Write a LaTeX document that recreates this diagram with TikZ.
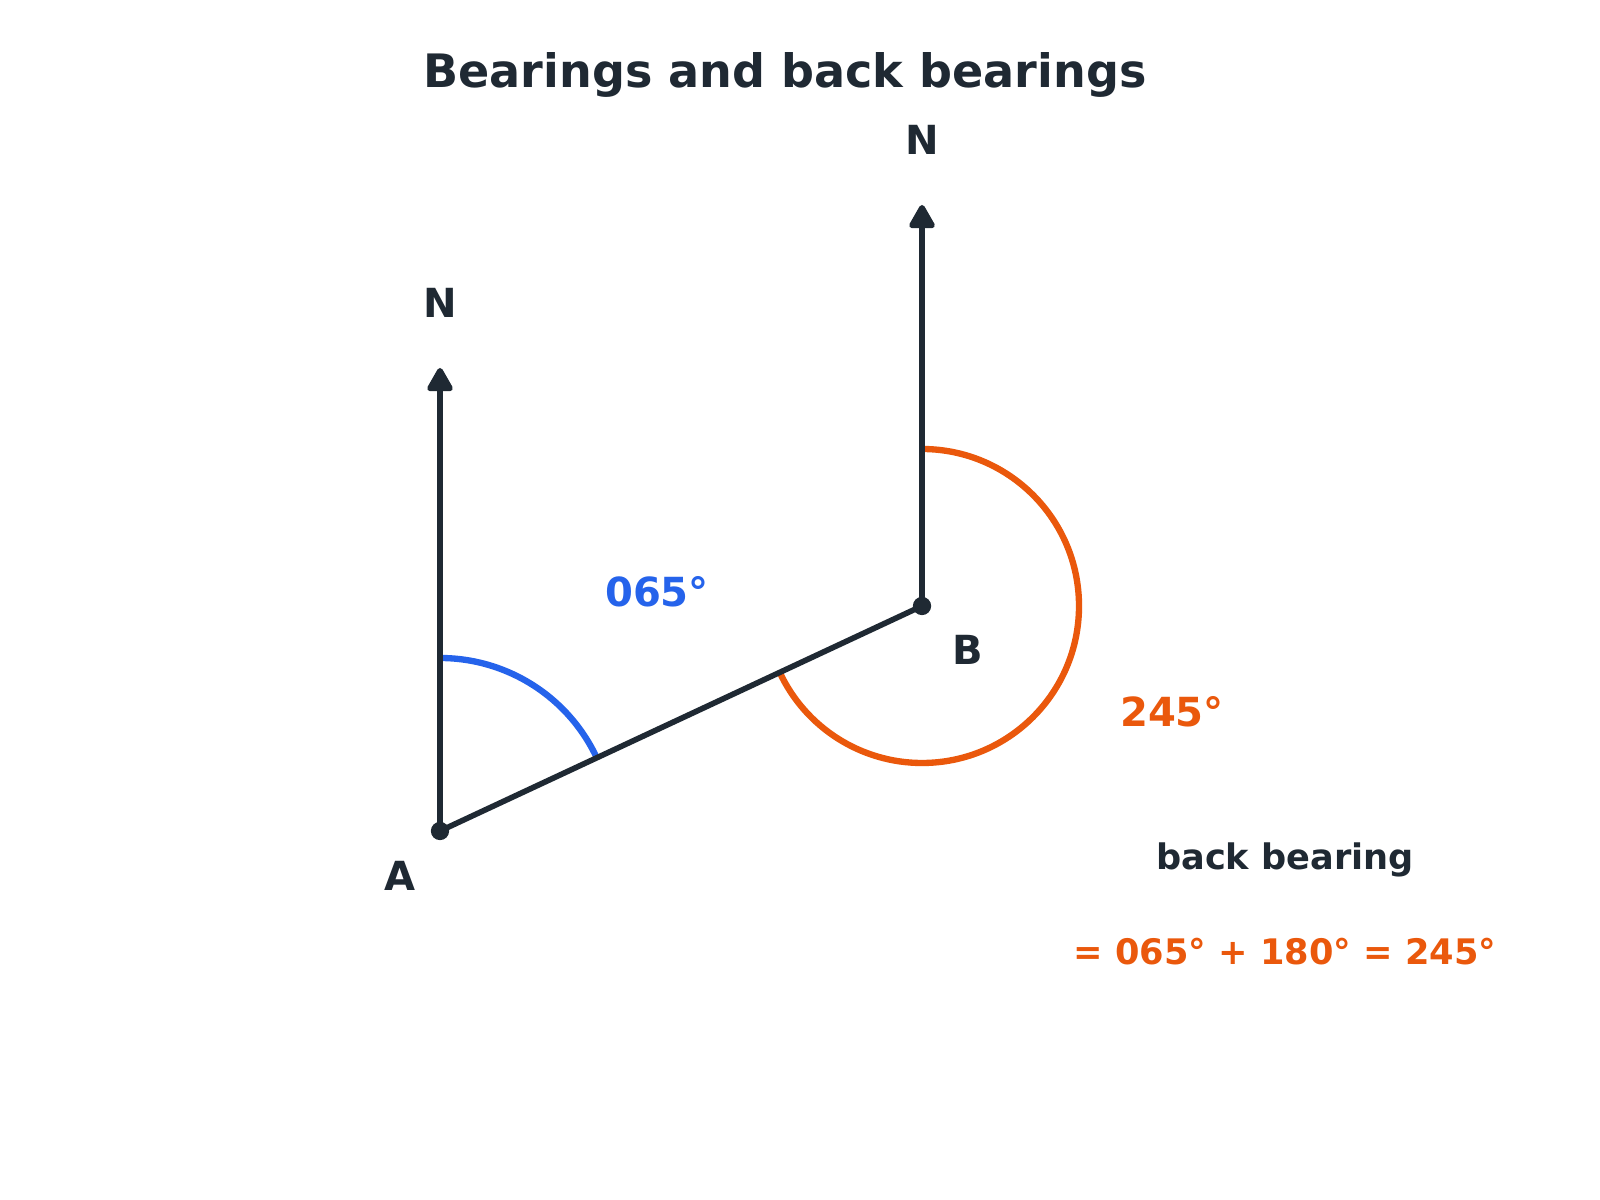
\documentclass[tikz,border=0pt]{standalone}
\usepackage{fontspec}
\setmainfont{DejaVu Sans}
\usepackage{tikz}
\usetikzlibrary{arrows.meta, positioning, calc}
\definecolor{ink}{HTML}{1F2933}
\definecolor{bearblue}{HTML}{2563EB}
\definecolor{bearorange}{HTML}{EA580C}

\begin{document}
\begin{tikzpicture}[
  x=0.01cm, y=0.01cm,
  line/.style={draw=ink, line width=1.6pt},
  north/.style={line, -{Triangle[length=7.5pt, width=8pt, round]}},
  dot/.style={circle, fill=ink, inner sep=0pt, minimum size=5.2pt},
  pt/.style={font=\fontsize{11.4}{13}\selectfont\bfseries, text=ink, inner sep=0pt},
  angle/.style={font=\fontsize{11.4}{13}\selectfont\bfseries, inner sep=0pt},
  arcline/.style={line width=1.8pt},
  note/.style={font=\fontsize{10}{12}\selectfont\bfseries, inner sep=0pt}
]
\fill[white] (0,0) rectangle (1600,1200);
\useasboundingbox (0,0) rectangle (1600,1200);

% --- Title ---
\node[font=\fontsize{13.1}{15}\selectfont\bfseries, text=ink] (title) at (785,1125)
{Bearings and back bearings};

% --- Points and north lines ---
\node[dot] (A) at (440,369) {};
\node[dot] (B) at (922,594) {};
\coordinate (nA) at (440,832);
\coordinate (nB) at (922,995);

\node[pt, above=0.5cm of nA] (labNA) {N};
\node[pt, above=0.5cm of nB] (labNB) {N};

% --- Angle arcs ---
\draw[arcline, bearblue] ($(A)+(0,173)$) arc[start angle=90, end angle=25, radius=173];
\draw[arcline, bearorange] ($(B)+(0,157)$) arc[start angle=90, end angle=-155, radius=157];

% --- Lines ---
\draw[north] (A.center) -- (nA);
\draw[north] (B.center) -- (nB);
\draw[line] (A.center) -- (B.center);

% --- Labels ---
\node[pt] (labA) at (400,324) {A};
\node[pt] (labB) at (968,550) {B};
\node[angle, text=bearblue] (fwd) at (657,608) {065°};
\node[angle, text=bearorange] (back) at (1172,488) {245°};

% --- Note ---
\node[note, text=ink] (bbtext) at (1285,340) {back bearing};
\node[note, text=bearorange, below=0.6cm of bbtext] (bbsum) {= 065° + 180° = 245°};

\end{tikzpicture}
\end{document}
